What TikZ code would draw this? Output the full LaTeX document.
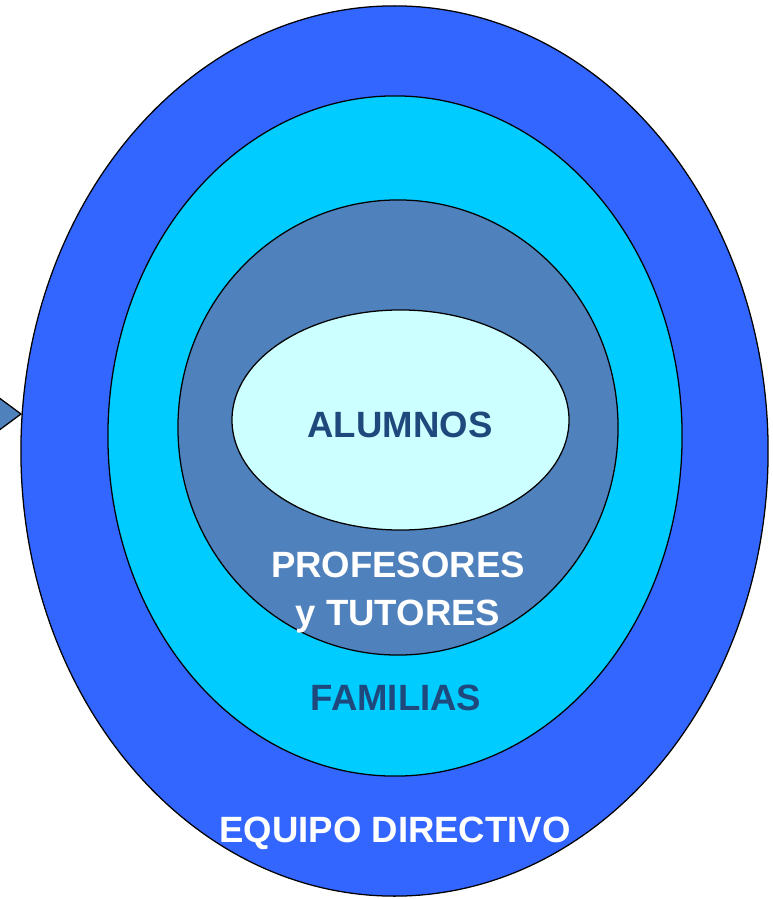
\documentclass[tikz,border=0pt]{standalone}
\usepackage{fontspec}
\setmainfont{Liberation Sans}
\usetikzlibrary{shapes.geometric}

\definecolor{equipoblue}{HTML}{3366FF}
\definecolor{familiacyan}{HTML}{00CCFF}
\definecolor{profesteel}{HTML}{4F81BD}
\definecolor{alumnolight}{HTML}{CCFFFF}
\definecolor{darktext}{HTML}{1F497D}

\begin{document}
\begin{tikzpicture}[
   x=0.025cm,y=-0.025cm,
   ring/.style={ellipse,draw,line width=0.9pt,inner sep=0pt,outer sep=0pt},
   word/.style={font=\fontsize{26}{34}\selectfont\bfseries,anchor=base,align=center,inner sep=0pt},
   every node/.style={}]
\useasboundingbox (0,0) rectangle (773,899);
% arrow at the left edge
\draw[fill=profesteel,line width=0.9pt] (-2,397) -- (21,414) -- (-2,431);
% rings from outside in
\node[ring,fill=equipoblue,minimum width=18.675cm,minimum height=22.25cm] (equipo) at (394.5,451) {};
\node[ring,fill=familiacyan,minimum width=14.35cm,minimum height=17cm] (familias) at (395,436) {};
\node[ring,fill=profesteel,minimum width=11cm,minimum height=11.375cm] (profes) at (398,427.5) {};
\node[ring,fill=alumnolight,minimum width=8.425cm,minimum height=5.5cm] (alumnos) at (400.5,420) {};
% labels
\node[word,text=darktext] (alumnoslabel) at (400,437) {ALUMNOS};
\node[word,text=white] (profeslabel) at (398,625) {PROFESORES\\y TUTORES};
\node[word,text=darktext] (familiaslabel) at (396,710) {FAMILIAS};
\node[word,text=white] (equipolabel) at (395,842) {EQUIPO DIRECTIVO};
\end{tikzpicture}
\end{document}
